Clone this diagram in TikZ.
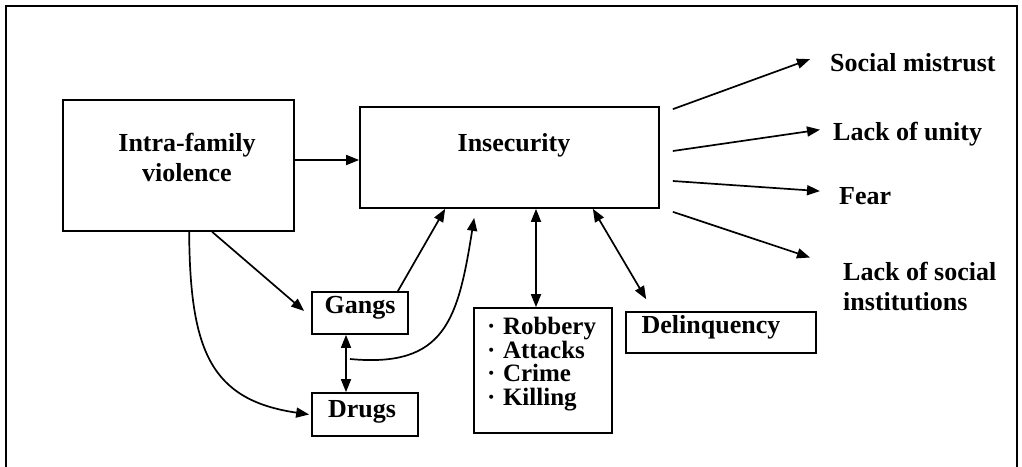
\documentclass[tikz,border=0pt]{standalone}
\usepackage{fontspec}
\setmainfont{Liberation Serif}
\usetikzlibrary{arrows.meta}
\tikzset{
  box/.style={draw, line width=1.7pt, rectangle, inner sep=0pt},
  lbl/.style={inner sep=0pt, font=\fontsize{26}{30}\selectfont\bfseries},
  arr/.style={line width=1.7pt, -{Triangle[length=13pt,width=10pt]}},
  darr/.style={line width=1.7pt, {Triangle[length=13pt,width=10pt]}-{Triangle[length=13pt,width=10pt]}},
  frame/.style={line width=1.7pt}
}
\begin{document}
\begin{tikzpicture}[x=1pt,y=-1pt]
\useasboundingbox (0,0) rectangle (1022,466);
\draw[frame] (6,480) -- (6,6) -- (1017,6) -- (1017,480);

% boxes
\node[box, minimum width=231pt, minimum height=131pt] (intra) at (178.5,165.5) {};
\node[box, minimum width=299pt, minimum height=101pt] (ins) at (509.5,157.5) {};
\node[box, minimum width=96pt, minimum height=42pt] (gangs) at (360,313) {};
\node[box, minimum width=106pt, minimum height=43pt] (drugs) at (365,414.5) {};
\node[box, minimum width=138pt, minimum height=125pt] (rob) at (543,370.5) {};
\node[box, minimum width=190pt, minimum height=41pt] (delinq) at (721,332.5) {};

% texts
\node[lbl, align=center] (tintra) at (187,157) {Intra-family\\violence};
\node[lbl, anchor=base] (tins) at (514,151) {Insecurity};
\node[lbl, anchor=base] (tgangs) at (360,313) {Gangs};
\node[lbl, anchor=base] (tdrugs) at (362,417) {Drugs};
\node[lbl, anchor=base] (tdel) at (711,333) {Delinquency};
\node[lbl, anchor=base west, align=left, font=\fontsize{25}{23.5}\selectfont\bfseries] (trob) at (487,405)
  {·\hspace{0.3em}Robbery\\·\hspace{0.3em}Attacks\\·\hspace{0.3em}Crime\\·\hspace{0.3em}Killing};

\node[lbl, anchor=base west] (sm) at (830,71) {Social mistrust};
\node[lbl, anchor=base west] (lu) at (833,140) {Lack of unity};
\node[lbl, anchor=base west] (fear) at (839,204) {Fear};
\node[lbl, anchor=base west, align=left] (lsi) at (843,310) {Lack of social\\institutions};

% connectors
\draw[arr] ([yshift=5.5pt]intra.east) -- ([yshift=5.5pt]intra.east -| ins.west);
\draw[arr] ([xshift=150pt]intra.south west) -- ([xshift=-7pt,yshift=2pt]gangs.west);
\draw[arr] ([xshift=127pt]intra.south west) .. controls (190,350) and (210,400) .. ([xshift=-2pt]drugs.west);
\draw[arr] ([xshift=-11pt]gangs.north east) -- ([xshift=86pt]ins.south west);
\coordinate (cs) at (350,359);
\draw[arr] (cs) .. controls (445,368) and (458,320) .. ([xshift=115pt,yshift=-9pt]ins.south west);
\draw[darr] ([xshift=-14pt]gangs.south) -- ([xshift=-14pt]gangs.south |- drugs.north);
\draw[darr] ([xshift=-7pt]rob.north) -- ([xshift=-7pt]rob.north |- ins.south);
\draw[darr] ([xshift=-67pt]ins.south east) -- ([xshift=21pt,yshift=12pt]delinq.north west);

\draw[arr] ([xshift=13pt,yshift=-3pt]ins.north east) -- ([xshift=-20pt,yshift=3pt]sm.west);
\draw[arr] ([xshift=13pt,yshift=6.5pt]ins.east) -- ([xshift=-13pt,yshift=4pt]lu.west);
\draw[arr] ([xshift=13pt,yshift=-23.5pt]ins.east) -- ([xshift=-19pt,yshift=4.5pt]fear.west);
\draw[arr] ([xshift=13pt,yshift=-3pt]ins.south east) -- ([xshift=-33pt,yshift=4pt]lsi.north west);
\end{tikzpicture}
\end{document}
